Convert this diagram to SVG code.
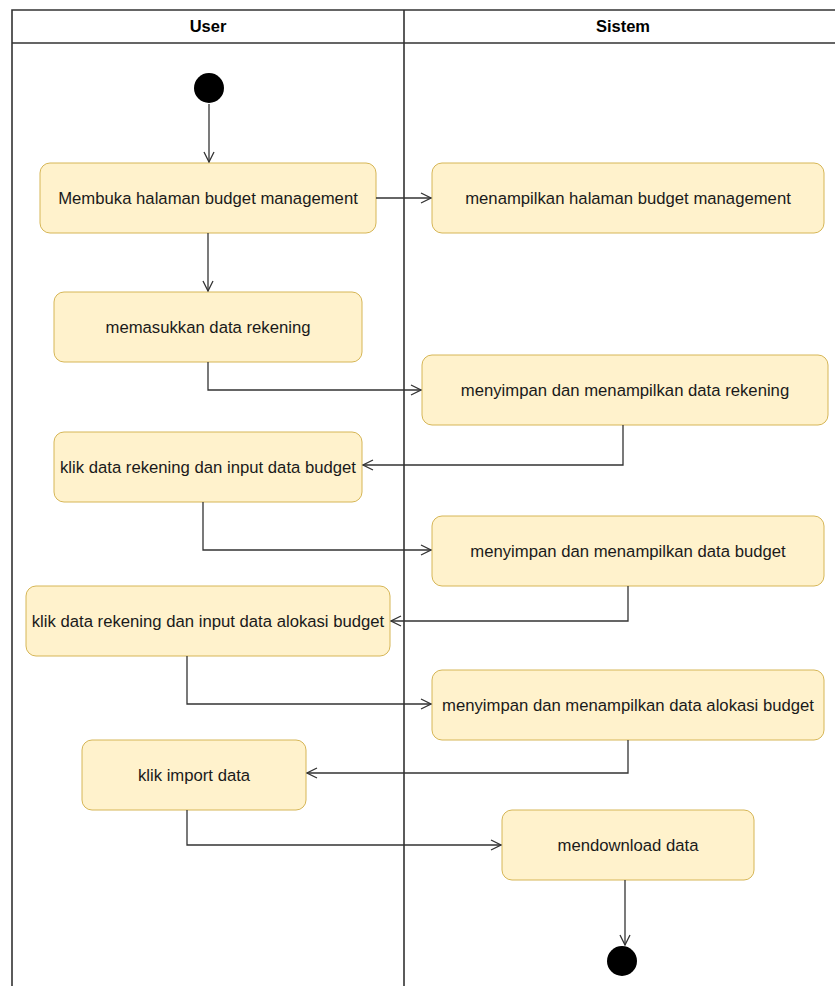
<svg xmlns="http://www.w3.org/2000/svg" width="835" height="986" viewBox="0 0 835 986">
  <style>
    .lane { fill: none; stroke: #333333; stroke-width: 1.6; }
    .head { font-family: "Liberation Sans", Arial, sans-serif; font-size: 16.5px; font-weight: bold; fill: #000000; text-anchor: middle; }
    .act rect { fill: #fff2cc; stroke: #d6b656; stroke-width: 1; }
    .act text { font-family: "Liberation Sans", Arial, sans-serif; font-size: 16.7px; fill: #1a1a1a; text-anchor: middle; dominant-baseline: central; }
    .flow { fill: none; stroke: #333333; stroke-width: 1.3; marker-end: url(#open); }
    .dot { fill: #000000; }
  </style>
  <defs>
    <marker id="open" viewBox="0 0 12 12" refX="11" refY="6" markerWidth="12" markerHeight="12" markerUnits="userSpaceOnUse" orient="auto">
      <path d="M1 1 L11 6 L1 11" fill="none" stroke="#333333" stroke-width="1.3"/>
    </marker>
  </defs>

  <rect width="835" height="986" fill="#ffffff"/>

  <!-- swimlanes -->
  <g id="pool">
    <path class="lane" d="M12 986 V10 H840 M12 43 H840 M404 10 V986"/>
    <text class="head" x="208" y="32">User</text>
    <text class="head" x="623" y="32">Sistem</text>
  </g>

  <!-- initial node -->
  <g id="start"><circle class="dot" cx="209" cy="88" r="15"/></g>

  <g id="a1" class="act"><rect x="40" y="163" width="336" height="70" rx="10"/><text x="208" y="198">Membuka halaman budget management</text></g>
  <g id="a2" class="act"><rect x="432" y="163" width="392" height="70" rx="10"/><text x="628" y="198">menampilkan halaman budget management</text></g>
  <g id="a3" class="act"><rect x="54" y="292" width="308" height="70" rx="10"/><text x="208" y="327">memasukkan data rekening</text></g>
  <g id="a4" class="act"><rect x="422" y="355" width="406" height="70" rx="10"/><text x="625" y="390">menyimpan dan menampilkan data rekening</text></g>
  <g id="a5" class="act"><rect x="54" y="432" width="308" height="70" rx="10"/><text x="208" y="467">klik data rekening dan input data budget</text></g>
  <g id="a6" class="act"><rect x="432" y="516" width="392" height="70" rx="10"/><text x="628" y="551">menyimpan dan menampilkan data budget</text></g>
  <g id="a7" class="act"><rect x="26" y="586" width="364" height="70" rx="10"/><text x="208" y="621">klik data rekening dan input data alokasi budget</text></g>
  <g id="a8" class="act"><rect x="432" y="670" width="392" height="70" rx="10"/><text x="628" y="705">menyimpan dan menampilkan data alokasi budget</text></g>
  <g id="a9" class="act"><rect x="82" y="740" width="224" height="70" rx="10"/><text x="194" y="775">klik import data</text></g>
  <g id="a10" class="act"><rect x="502" y="810" width="252" height="70" rx="10"/><text x="628" y="845">mendownload data</text></g>

  <!-- final node -->
  <g id="end"><circle class="dot" cx="622" cy="961" r="15"/></g>

  <!-- control flows -->
  <g id="connectors">
    <path class="flow" d="M209 104 V162"/>
    <path class="flow" d="M376 198 H431"/>
    <path class="flow" d="M208 233 V291"/>
    <path class="flow" d="M208 362 V390 H421"/>
    <path class="flow" d="M623 425 V465 H363"/>
    <path class="flow" d="M203 502 V550 H431"/>
    <path class="flow" d="M628 586 V621 H391"/>
    <path class="flow" d="M187 656 V704 H431"/>
    <path class="flow" d="M628 740 V773 H307"/>
    <path class="flow" d="M187 810 V845 H501"/>
    <path class="flow" d="M625 880 V945"/>
  </g>
</svg>
